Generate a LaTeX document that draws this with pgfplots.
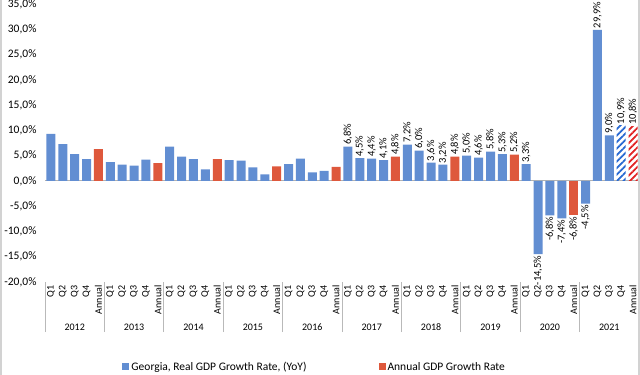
\documentclass[border=0pt]{standalone}
\usepackage{pgfplots}
\pgfplotsset{compat=1.18}
\usepackage{fontspec}
\setmainfont{Carlito}
\usetikzlibrary{patterns.meta}
\definecolor{gblue}{RGB}{98,142,210}
\definecolor{gred}{RGB}{222,88,60}
\definecolor{hblue}{RGB}{40,105,210}
\definecolor{hred}{RGB}{225,35,35}
\pgfplotsset{
  mybar/.style={ybar, bar width=9bp, bar shift=0pt, draw=none},
  lblpos/.style={nodes near coords={\pgfmathprintnumber[fixed,fixed zerofill,precision=1,use comma,assume math mode=true]{\pgfplotspointmeta}\%},
    every node near coord/.append style={rotate=90, anchor=west, font=\fontsize{10.5bp}{12bp}\selectfont, inner sep=1.5bp, text=black}},
  lblneg/.style={nodes near coords={\pgfmathprintnumber[fixed,fixed zerofill,precision=1,use comma,assume math mode=true]{\pgfplotspointmeta}\%},
    every node near coord/.append style={rotate=90, anchor=east, font=\fontsize{10.5bp}{12bp}\selectfont, inner sep=1.5bp, text=black}},
}
\tikzset{yr/.style={font=\fontsize{10bp}{11bp}\selectfont, yshift=-45bp}}
\begin{document}
\begin{tikzpicture}
\begin{axis}[
  scale only axis, width=594bp, height=278bp,
  xmin=-0.5, xmax=49.5, ymin=-20, ymax=35,
  clip=false,
  axis line style={draw=none},
  tick pos=left,
  major tick length=0pt,
  ytick={-20,-15,...,35},
  yticklabel={\pgfmathprintnumber[fixed,fixed zerofill,precision=1,use comma,assume math mode=true]{\tick}\%},
  y tick label style={font=\fontsize{11.5bp}{13bp}\selectfont, xshift=-5bp},
  xtick={0,...,49},
  xticklabels={Q1,Q2,Q3,Q4,Annual,Q1,Q2,Q3,Q4,Annual,Q1,Q2,Q3,Q4,Annual,Q1,Q2,Q3,Q4,Annual,Q1,Q2,Q3,Q4,Annual,Q1,Q2,Q3,Q4,Annual,Q1,Q2,Q3,Q4,Annual,Q1,Q2,Q3,Q4,Annual,Q1,Q2,Q3,Q4,Annual,Q1,Q2,Q3,Q4,Annual},
  x tick label style={rotate=90, anchor=east, font=\fontsize{10bp}{11bp}\selectfont},
  extra x ticks={-0.5,4.5,9.5,14.5,19.5,24.5,29.5,34.5,39.5,44.5,49.5},
  extra x tick labels={},
  extra x tick style={major tick length=50bp, tick align=outside, tick style={draw=gray!55, line width=0.9bp}},
  extra y ticks={0},
  extra y tick labels={},
  extra y tick style={grid=major, major grid style={draw=gray!60, line width=0.9bp}},
  legend style={at={(0.454,-0.305)}, anchor=center, draw=none, fill=none, legend columns=2,
    font=\fontsize{11.5bp}{13bp}\selectfont,
    /tikz/every even column/.append style={column sep=70bp}},
]
\addplot[mybar, fill=gblue, legend image code/.code={\fill[gblue] (0bp,-3.5bp) rectangle (7bp,3.5bp);}] coordinates {
 (0,9.3)(1,7.3)(2,5.3)(3,4.3)
 (5,3.7)(6,3.2)(7,3.0)(8,4.2)
 (10,6.8)(11,4.8)(12,4.3)(13,2.3)
 (15,4.1)(16,4.0)(17,2.7)(18,1.3)
 (20,3.3)(21,4.4)(22,1.7)(23,2.0)};
\addlegendentry{Georgia, Real GDP Growth Rate, (YoY)}
\addplot[mybar, fill=gred, legend image code/.code={\fill[gred] (0bp,-3.5bp) rectangle (7bp,3.5bp);}] coordinates {
 (4,6.3)(9,3.5)(14,4.3)(19,2.9)(24,2.8)};
\addlegendentry{Annual GDP Growth Rate}
% labelled blue, positive
\addplot[mybar, fill=gblue, lblpos, forget plot] coordinates {
 (25,6.8)(26,4.5)(27,4.4)(28,4.1)
 (30,7.2)(31,6.0)(32,3.6)(33,3.2)
 (35,5.0)(36,4.6)(37,5.8)(38,5.3)
 (40,3.3)(46,29.9)(47,9.0)};
% labelled blue, negative
\addplot[mybar, fill=gblue, lblneg, forget plot] coordinates {
 (41,-14.5)(42,-6.8)(43,-7.4)(45,-4.5)};
% labelled red, positive
\addplot[mybar, fill=gred, lblpos, forget plot] coordinates {
 (29,4.8)(34,4.8)(39,5.2)};
% labelled red, negative
\addplot[mybar, fill=gred, lblneg, forget plot] coordinates {
 (44,-6.8)};
% hatched estimates
\addplot[mybar, fill=white, pattern={Lines[angle=45, distance=4.6bp, line width=1.7bp]}, pattern color=hblue, lblpos, forget plot] coordinates {(48,10.9)};
\addplot[mybar, fill=white, pattern={Lines[angle=45, distance=4.6bp, line width=1.7bp]}, pattern color=hred, lblpos, forget plot] coordinates {(49,10.8)};
% year labels
\node[yr] at (axis cs:2,-20) {2012};
\node[yr] at (axis cs:7,-20) {2013};
\node[yr] at (axis cs:12,-20) {2014};
\node[yr] at (axis cs:17,-20) {2015};
\node[yr] at (axis cs:22,-20) {2016};
\node[yr] at (axis cs:27,-20) {2017};
\node[yr] at (axis cs:32,-20) {2018};
\node[yr] at (axis cs:37,-20) {2019};
\node[yr] at (axis cs:42,-20) {2020};
\node[yr] at (axis cs:47,-20) {2021};
\end{axis}
\draw[gray!35, line width=2bp] (-44bp,-93bp) -- (-44bp,282bp);
\draw[gray!35, line width=1.5bp] (594bp,-93bp) -- (594bp,282bp);
\pgfresetboundingbox
\path[use as bounding box] (-45bp,-93bp) rectangle (595bp,282bp);
\end{tikzpicture}
\end{document}
